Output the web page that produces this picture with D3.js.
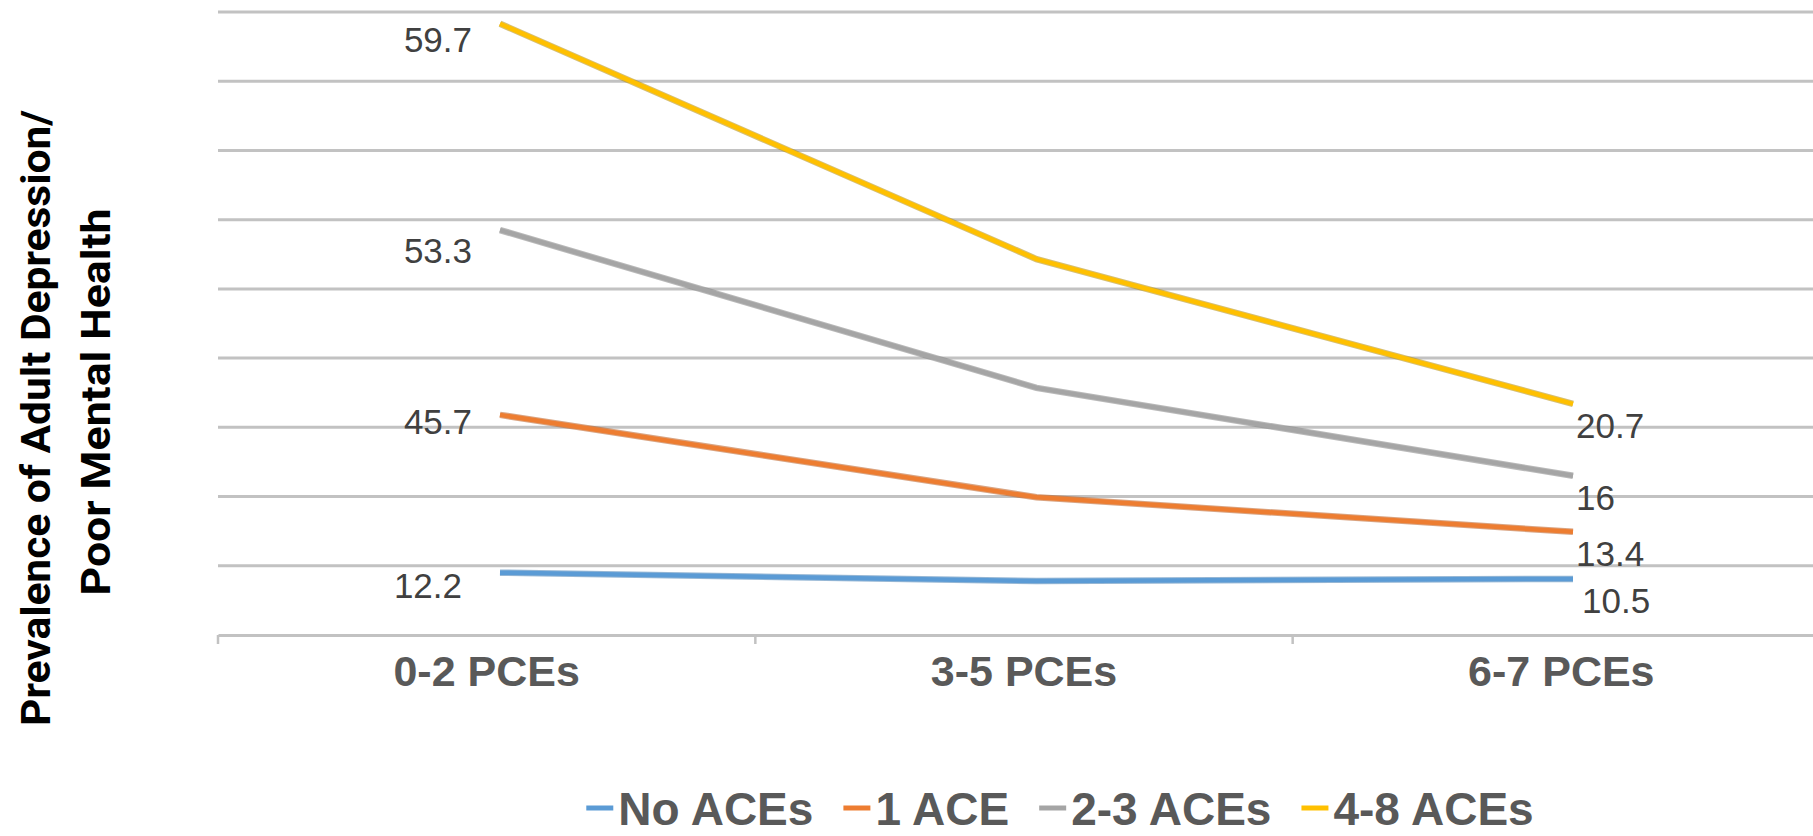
<!DOCTYPE html>
<html>
<head>
<meta charset="utf-8">
<script src="https://cdn.jsdelivr.net/npm/d3@7"></script>
<style>
  html, body { margin: 0; padding: 0; background: #ffffff; }
  svg { display: block; }
</style>
</head>
<body>
<svg id="chart" width="1813" height="836"></svg>
<script>
// ---- data (in gridline units of the unlabeled y axis) ----
const categories = ["0-2 PCEs", "3-5 PCEs", "6-7 PCEs"];
const seriesNames = ["No ACEs", "1 ACE", "2-3 ACEs", "4-8 ACEs"];
const noAces   = [0.90, 0.78, 0.81];
const oneAce   = [3.18, 1.99, 1.49];
const twoThree = [5.85, 3.57, 2.30];
const fourEight = [8.83, 5.43, 3.34];
// data label texts as printed on the chart (first and last category only)
const noAcesLabels    = ["12.2", "", "10.5"];
const oneAceLabels    = ["45.7", "", "13.4"];
const twoThreeLabels  = ["53.3", "", "16"];
const fourEightLabels = ["59.7", "", "20.7"];
const gridTicks = [0, 1, 2, 3, 4, 5, 6, 7, 8, 9];
const yTitleLines = ["Prevalence of Adult Depression/", "Poor Mental Health"];

const seriesValues = [noAces, oneAce, twoThree, fourEight];
const seriesLabels = [noAcesLabels, oneAceLabels, twoThreeLabels, fourEightLabels];
const colors = ["#5B9BD5", "#ED7D31", "#A5A5A5", "#FFC000"];
const darker = ["#3f7bb3", "#b95a1c", "#7f7f7f", "#b58a00"];
// per-series vertical nudge of the left labels (layout only)
const leftNudge = [25, 19, 33, 28];

const svg = d3.select("#chart");

// ---- scales ----
const y = d3.scaleLinear().domain([0, 9]).range([635, 12]);
const xBand = d3.scaleBand().domain(categories).range([218, 1830]).padding(0);
const xPt = d3.scalePoint().domain(categories).range([500, 1573]);

// ---- gridlines ----
svg.append("g").selectAll("line")
  .data(gridTicks.filter(d => d > 0))
  .join("line")
  .attr("x1", 218).attr("x2", 1813)
  .attr("y1", d => y(d)).attr("y2", d => y(d))
  .attr("stroke", "#c2c2c2").attr("stroke-width", 3);

// ---- x axis ----
const xAxis = d3.axisBottom(xBand).tickSize(0).tickSizeOuter(0);
const axG = svg.append("g").attr("transform", `translate(0,${y(0)})`).call(xAxis);
axG.select(".domain").attr("stroke", "#c2c2c2").attr("stroke-width", 3);
axG.selectAll(".tick text")
  .attr("y", 51).attr("dy", 0)
  .attr("font-family", "Liberation Sans, Arial, sans-serif")
  .attr("font-weight", "bold").attr("font-size", 43)
  .attr("fill", "#595959");
// boundary ticks between categories
const boundaries = categories.map(c => xBand(c)).concat([xBand.range()[1]]);
svg.append("g").selectAll("line").data(boundaries).join("line")
  .attr("x1", d => d).attr("x2", d => d)
  .attr("y1", y(0)).attr("y2", y(0) + 9)
  .attr("stroke", "#c2c2c2").attr("stroke-width", 2.5);

// ---- lines ----
const line = d3.line().x((d, i) => xPt(categories[i])).y(d => y(d));
const linesG = svg.append("g");
seriesValues.forEach((vals, s) => {
  linesG.append("path").datum(vals)
    .attr("d", line).attr("fill", "none")
    .attr("stroke", darker[s]).attr("stroke-width", 6.5).attr("stroke-opacity", 0.55);
  linesG.append("path").datum(vals)
    .attr("d", line).attr("fill", "none")
    .attr("stroke", colors[s]).attr("stroke-width", 4.5);
});

// ---- data labels ----
const labG = svg.append("g")
  .attr("font-family", "Liberation Sans, Arial, sans-serif")
  .attr("font-size", 35).attr("fill", "#404040");
seriesValues.forEach((vals, s) => {
  vals.forEach((v, i) => {
    const t = seriesLabels[s][i];
    if (!t) return;
    const px = xPt(categories[i]), py = y(v);
    if (i === 0) {
      labG.append("text").text(t)
        .attr("x", px - 28 - (s === 0 ? 10 : 0)).attr("y", py + leftNudge[s])
        .attr("text-anchor", "end");
    } else {
      labG.append("text").text(t)
        .attr("x", px + 3 + (s === 0 ? 6 : 0)).attr("y", py + 34)
        .attr("text-anchor", "start");
    }
  });
});

// ---- y axis title ----
const titleCenters = [418, 402];
const titleLengths = [616, 387];
const titleX = [50, 110];
yTitleLines.forEach((t, i) => {
  svg.append("text").text(t)
    .attr("transform", `translate(${titleX[i]},${titleCenters[i]}) rotate(-90)`)
    .attr("text-anchor", "middle")
    .attr("font-family", "Liberation Sans Narrow, Roboto, Liberation Sans, sans-serif")
    .attr("font-weight", "bold").attr("font-size", 40)
    .attr("fill", "#000000")
    .attr("textLength", titleLengths[i]).attr("lengthAdjust", "spacingAndGlyphs");
});

// ---- legend ----
const legG = svg.append("g");
const legFont = 46, markW = 27, markGap = 5, itemGap = 30, legBase = 825;
const items = [];
seriesNames.forEach((n, s) => {
  const g = legG.append("g");
  g.append("line")
    .attr("x1", 0).attr("x2", markW)
    .attr("y1", legBase - 17).attr("y2", legBase - 17)
    .attr("stroke", colors[s]).attr("stroke-width", 5);
  const tx = g.append("text").text(n)
    .attr("x", markW + markGap).attr("y", legBase)
    .attr("font-family", "Liberation Sans, Arial, sans-serif")
    .attr("font-weight", "bold").attr("font-size", legFont)
    .attr("fill", "#595959");
  const w = markW + markGap + tx.node().getComputedTextLength();
  items.push({ g, w });
});
const total = d3.sum(items, d => d.w) + itemGap * (items.length - 1);
let x0 = 1060 - total / 2;
items.forEach(it => {
  it.g.attr("transform", `translate(${x0},0)`);
  x0 += it.w + itemGap;
});
</script>
</body>
</html>
